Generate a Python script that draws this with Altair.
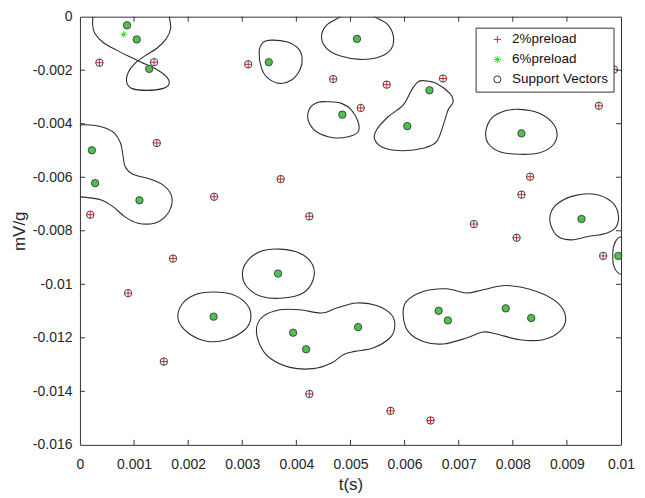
import altair as alt
import pandas as pd

# ---------------- data ----------------
x_ticks = [0, 0.001, 0.002, 0.003, 0.004, 0.005, 0.006, 0.007, 0.008, 0.009, 0.01]
y_ticks = [0, -0.002, -0.004, -0.006, -0.008, -0.01, -0.012, -0.014, -0.016]

legend_keys = ["2%preload", "6%preload", "Support Vectors"]

# 2% preload points (all are support vectors)
red_t = [0.00036, 0.00137, 0.00142, 0.00019, 0.00248, 0.00371, 0.00424, 0.00311,
         0.00468, 0.00519, 0.00567, 0.00671, 0.00987, 0.00959, 0.00832, 0.00816,
         0.00728, 0.00807, 0.00967, 0.00172, 0.00089, 0.00155, 0.00424, 0.00574, 0.00648]
red_v = [-0.00172, -0.00170, -0.00472, -0.00740, -0.00673, -0.00607, -0.00746, -0.00178,
         -0.00233, -0.00341, -0.00254, -0.00231, -0.00197, -0.00333, -0.00598, -0.00665,
         -0.00775, -0.00826, -0.00894, -0.00904, -0.01033, -0.01289, -0.01410, -0.01473, -0.01509]

# 6% preload points
green_t = [0.00087, 0.00105, 0.00128, 0.00022, 0.00028, 0.00110, 0.00349, 0.00512,
           0.00485, 0.00646, 0.00605, 0.00816, 0.00927, 0.00995, 0.00366, 0.00247,
           0.00394, 0.00418, 0.00514, 0.00663, 0.00680, 0.00787, 0.00834, 0.00081]
green_v = [-0.00032, -0.00085, -0.00195, -0.00499, -0.00622, -0.00686, -0.00170, -0.00083,
           -0.00366, -0.00275, -0.00409, -0.00436, -0.00756, -0.00894, -0.00960, -0.01121,
           -0.01181, -0.01243, -0.01160, -0.01099, -0.01135, -0.01090, -0.01126, -0.00066]
green_sv = [True] * 23 + [False]

# decision boundary contours (t, v)
contour_A = [(0.000246, 0.000179), (0.000235, -0.000317), (0.000277, -0.000627), (0.000430, -0.000963),
             (0.000678, -0.001250), (0.000924, -0.001500), (0.001140, -0.001709), (0.001386, -0.001933),
             (0.001589, -0.002220), (0.001650, -0.002493), (0.001539, -0.002679), (0.001232, -0.002754),
             (0.000955, -0.002679), (0.000863, -0.002433), (0.000892, -0.002082), (0.001016, -0.001746),
             (0.001201, -0.001463), (0.001417, -0.001187), (0.001589, -0.000840), (0.001676, -0.000440),
             (0.001650, -0.000007), (0.001613, 0.000179)]
contour_B = [(-0.000098, -0.004049), (0.000209, -0.004049), (0.000456, -0.004149), (0.000641, -0.004358),
             (0.000752, -0.004731), (0.000794, -0.005168), (0.000837, -0.005604), (0.000979, -0.005888),
             (0.001288, -0.006063), (0.001533, -0.006287), (0.001687, -0.006660), (0.001687, -0.007097),
             (0.001576, -0.007470), (0.001380, -0.007716), (0.001071, -0.007716), (0.000826, -0.007470),
             (0.000610, -0.007097), (0.000393, -0.006847), (0.000148, -0.006761), (-0.000098, -0.006724)]
contour_C = [(0.003541, -0.000877), (0.003819, -0.000940), (0.004033, -0.001187), (0.004107, -0.001560),
             (0.004064, -0.001996), (0.003911, -0.002369), (0.003695, -0.002493), (0.003479, -0.002306),
             (0.003357, -0.001933), (0.003312, -0.001313), (0.003386, -0.000963)]
contour_D = [(0.004835, 0.000179), (0.004803, -0.000007), (0.004558, -0.000317), (0.004465, -0.000754),
             (0.004558, -0.001187), (0.004803, -0.001463), (0.005173, -0.001597), (0.005542, -0.001500),
             (0.005758, -0.001187), (0.005788, -0.000690), (0.005666, -0.000254), (0.005450, -0.000007),
             (0.005376, 0.000179)]
contour_E = [(0.004587, -0.003179), (0.004835, -0.003239), (0.005019, -0.003489), (0.005141, -0.003925),
             (0.005141, -0.004299), (0.004957, -0.004485), (0.004680, -0.004522), (0.004373, -0.004299),
             (0.004218, -0.003862), (0.004249, -0.003425), (0.004402, -0.003201)]
contour_F = [(0.006374, -0.002396), (0.006590, -0.002493), (0.006836, -0.002866), (0.006897, -0.003179),
             (0.006804, -0.003489), (0.006725, -0.003985), (0.006590, -0.004672), (0.006342, -0.004918),
             (0.005973, -0.005007), (0.005635, -0.004918), (0.005450, -0.004608), (0.005481, -0.004235),
             (0.005696, -0.003739), (0.005973, -0.003302), (0.006128, -0.002743), (0.006250, -0.002433)]
contour_G = [(0.008129, -0.003463), (0.008467, -0.003590), (0.008714, -0.003925), (0.008818, -0.004358),
             (0.008744, -0.004795), (0.008498, -0.005082), (0.008129, -0.005142), (0.007759, -0.005045),
             (0.007543, -0.004731), (0.007501, -0.004299), (0.007606, -0.003799), (0.007852, -0.003526)]
contour_H = [(0.008836, -0.006970), (0.009145, -0.006687), (0.009514, -0.006634), (0.009823, -0.006910),
             (0.009945, -0.007343), (0.009915, -0.007843), (0.009730, -0.008090), (0.009390, -0.008216),
             (0.009084, -0.008340), (0.008836, -0.008216), (0.008701, -0.007780), (0.008701, -0.007343)]
contour_I = [(0.010087, -0.008190), (0.009945, -0.008276), (0.009865, -0.008563), (0.009847, -0.008937),
             (0.009865, -0.009310), (0.009945, -0.009571), (0.010087, -0.009683)]
contour_J = [(0.003695, -0.008687), (0.004064, -0.008836), (0.004299, -0.009272), (0.004310, -0.009832),
             (0.004125, -0.010328), (0.003756, -0.010515), (0.003357, -0.010455), (0.003080, -0.010082),
             (0.003006, -0.009522), (0.003141, -0.009022), (0.003386, -0.008739)]
contour_K = [(0.002463, -0.010291), (0.002832, -0.010392), (0.003091, -0.010765), (0.003159, -0.011261),
             (0.003048, -0.011698), (0.002710, -0.012071), (0.002341, -0.012127), (0.002001, -0.011821),
             (0.001816, -0.011325), (0.001879, -0.010765), (0.002125, -0.010392)]
contour_L = [(0.003264, -0.011634), (0.003386, -0.011201), (0.003695, -0.010951), (0.004064, -0.010951),
             (0.004465, -0.011075), (0.004742, -0.010888), (0.005112, -0.010701), (0.005481, -0.010791),
             (0.005758, -0.011138), (0.005819, -0.011575), (0.005727, -0.012007), (0.005418, -0.012381),
             (0.005080, -0.012507), (0.004864, -0.012631), (0.004650, -0.012940), (0.004310, -0.013153),
             (0.003880, -0.013104), (0.003510, -0.012754), (0.003325, -0.012257)]
contour_M = [(0.006035, -0.010642), (0.006342, -0.010269), (0.006774, -0.010168), (0.007144, -0.010328),
             (0.007451, -0.010205), (0.007883, -0.010045), (0.008437, -0.010269), (0.008836, -0.010701),
             (0.008978, -0.011261), (0.008868, -0.011761), (0.008559, -0.012071), (0.008129, -0.012071),
             (0.007698, -0.011858), (0.007451, -0.011784), (0.007144, -0.012007), (0.006712, -0.012231),
             (0.006342, -0.012134), (0.006065, -0.011761), (0.005973, -0.011138)]

open_contours = {"A": contour_A, "B": contour_B, "D": contour_D, "I": contour_I}
closed_contours = {"C": contour_C, "E": contour_E, "F": contour_F, "G": contour_G, "H": contour_H,
                   "J": contour_J, "K": contour_K, "L": contour_L, "M": contour_M}


def contour_table(d):
    rows = []
    for cid, pts in d.items():
        for i, (t, v) in enumerate(pts):
            rows.append({"cid": cid, "ord": i, "t": t, "v": v})
    return pd.DataFrame(rows)


# ---------------- style ----------------
W, H = 541.5, 428.5
AX = "#333333"
LINE = "#2e2e2e"
RED = "#cc2a2a"
GREEN = "#22dd22"
GFILL = "#4cc24c"
FONT = "Liberation Sans"
PLUS = "M-1,0L1,0M0,-1L0,1"
STAR = "M-1,0L1,0M0,-1L0,1M-0.7,-0.7L0.7,0.7M-0.7,0.7L0.7,-0.7"

fix = "replace(format(datum.value, '.3~f'), '\u2212', '-')"
xs = alt.Scale(domain=[0, 0.01], nice=False, zero=False)
ys = alt.Scale(domain=[-0.016, 0], nice=False, zero=False)
xaxis = alt.Axis(values=x_ticks, labelExpr=fix, title="t(s)", ticks=False, tickSize=0, domain=False,
                 grid=False, labelFlush=False, labelOverlap=False, labelPadding=13, titlePadding=5)
yaxis = alt.Axis(values=y_ticks, labelExpr=fix, title="mV/g", ticks=False, tickSize=0, domain=False,
                 grid=False, labelFlush=False, labelOverlap=False, labelPadding=8, titlePadding=4)
X = alt.X("t:Q", scale=xs, axis=xaxis)
Y = alt.Y("v:Q", scale=ys, axis=yaxis)

leg = alt.Legend(title=None, orient="none", legendX=396, legendY=11, fillColor="white",
                 strokeColor=AX, padding=5, labelFontSize=13.5, labelColor="#111111", labelFont=FONT,
                 symbolSize=50, symbolStrokeWidth=1, rowPadding=5, labelOffset=8, symbolOffset=10,
                 cornerRadius=0)
shape = alt.Shape("key:N", scale=alt.Scale(domain=legend_keys, range=[PLUS, STAR, "circle"]), legend=leg)
color = alt.Color("key:N", scale=alt.Scale(domain=legend_keys, range=[RED, GREEN, AX]), legend=leg)

red_df = pd.DataFrame({"t": red_t, "v": red_v, "key": "2%preload"})
green_df = pd.DataFrame({"t": green_t, "v": green_v, "key": "6%preload"})
gsv_df = green_df[pd.Series(green_sv)].copy()
sv_df = pd.concat([red_df[["t", "v"]], gsv_df[["t", "v"]]], ignore_index=True)
sv_df["key"] = "Support Vectors"

L_open = alt.Chart(contour_table(open_contours)).mark_line(
    interpolate="cardinal", color=LINE, strokeWidth=1.1, clip=True
).encode(x=X, y=Y, detail="cid:N", order=alt.Order("ord:Q"))
L_closed = alt.Chart(contour_table(closed_contours)).mark_line(
    interpolate="cardinal-closed", color=LINE, strokeWidth=1.1, clip=True
).encode(x=X, y=Y, detail="cid:N", order=alt.Order("ord:Q"))

xt_df = pd.DataFrame({"t": x_ticks[1:-1]})
yt_df = pd.DataFrame({"v": y_ticks[1:-1]})
L_xb = alt.Chart(xt_df).mark_rule(color=AX, strokeWidth=1).encode(x=X, y=alt.value(H), y2=alt.value(H - 5))
L_xtop = alt.Chart(xt_df).mark_rule(color=AX, strokeWidth=1).encode(x=X, y=alt.value(0), y2=alt.value(5))
L_yl = alt.Chart(yt_df).mark_rule(color=AX, strokeWidth=1).encode(y=Y, x=alt.value(0), x2=alt.value(5))
L_yr = alt.Chart(yt_df).mark_rule(color=AX, strokeWidth=1).encode(y=Y, x=alt.value(W), x2=alt.value(W - 5))

L_green = alt.Chart(green_df).mark_point(filled=False, size=36, strokeWidth=1, opacity=1).encode(
    x=X, y=Y, shape=shape, color=color)
L_gfill = alt.Chart(gsv_df).mark_circle(size=50, color=GFILL, opacity=1).encode(x=X, y=Y)
L_red = alt.Chart(red_df).mark_point(filled=False, size=55, strokeWidth=1, opacity=1).encode(
    x=X, y=Y, shape=shape, color=color)
L_sv = alt.Chart(sv_df).mark_point(filled=False, size=55, strokeWidth=0.9, opacity=1).encode(
    x=X, y=Y, shape=shape, color=color)

chart = alt.layer(
    L_open, L_closed, L_xb, L_xtop, L_yl, L_yr, L_green, L_gfill, L_red, L_sv
).properties(
    width=W, height=H,
    autosize=alt.AutoSizeParams(type="none"),
    padding={"left": 72, "top": 8.5, "right": 16, "bottom": 52},
).configure_view(
    stroke=AX, strokeWidth=1
).configure_axis(
    labelFont=FONT, titleFont=FONT, labelFontSize=14, titleFontSize=17,
    labelColor="#262626", titleColor="#262626", titleFontWeight="normal"
).configure_legend(labelFont=FONT)

chart.save("out.html", embed_options={"renderer": "svg", "actions": False})
